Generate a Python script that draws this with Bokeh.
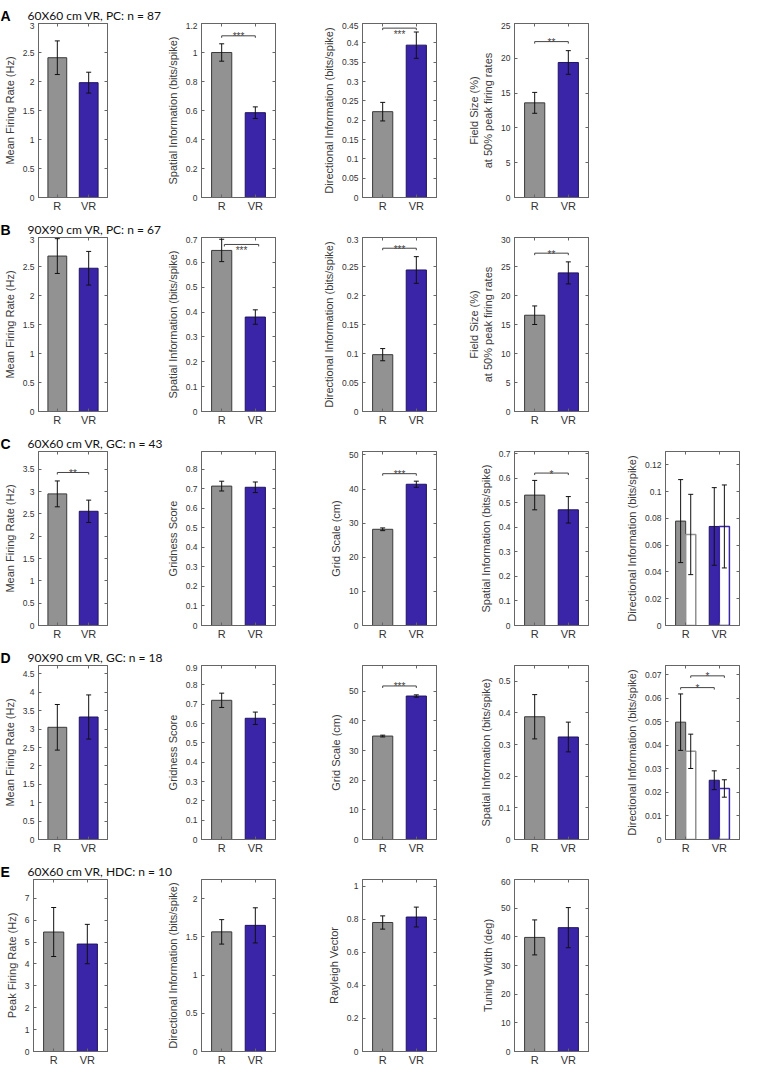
import math
from bokeh.plotting import figure
from bokeh.layouts import column, row
from bokeh.models import (ColumnDataSource, FixedTicker, LinearAxis, Range1d,
                          Whisker, TeeHead)
from bokeh.embed import file_html
from bokeh.resources import INLINE
from bokeh.core.properties import value

# ---------------- data ----------------
categories = ["R", "VR"]
cat_x = [1, 2]

PC_ylabels = ["Mean Firing Rate (Hz)", "Spatial Information (bits/spike)",
              "Directional Information (bits/spike)",
              "Field Size (%)\nat 50% peak firing rates"]

A_letter = "A"
A_title = "60X60 cm VR, PC: n = 87"
A_ymax = [3, 1.2, 0.45, 25]
A_ystep = [0.5, 0.2, 0.05, 5]
A_means = [[2.41, 1.98], [1.00, 0.585], [0.222, 0.394], [13.6, 19.4]]
A_errs = [[0.29, 0.18], [0.06, 0.04], [0.024, 0.034], [1.5, 1.7]]
A_sig = [None, (1, 2, 1.115, "***"), (1, 2, 0.438, "***"), (1, 2, 22.4, "**")]

B_letter = "B"
B_title = "90X90 cm VR, PC: n = 67"
B_ymax = [3, 0.7, 0.3, 30]
B_ystep = [0.5, 0.1, 0.05, 5]
B_means = [[2.68, 2.47], [0.648, 0.38], [0.098, 0.244], [16.6, 23.9]]
B_errs = [[0.30, 0.29], [0.045, 0.029], [0.0105, 0.023], [1.6, 1.9]]
B_sig = [None, (1.08, 2.1, 0.672, "***"), (1, 2, 0.2815, "***"), (1, 2, 27.3, "**")]

GC_ylabels = ["Mean Firing Rate (Hz)", "Gridness Score", "Grid Scale (cm)",
              "Spatial Information (bits/spike)",
              "Directional Information (bits/spike)"]

C_letter = "C"
C_title = "60X60 cm VR, GC: n = 43"
C_ymax = [3.9, 0.89, 51, 0.71, 0.13]
C_ystep = [0.5, 0.1, 10, 0.1, 0.02]
C_means = [[2.95, 2.56], [0.713, 0.707], [28.2, 41.4], [0.532, 0.472]]
C_errs = [[0.29, 0.25], [0.025, 0.027], [0.4, 0.9], [0.06, 0.054]]
C_sig = [(1, 2, 3.43, "**"), None, (1, 2, 44.5, "***"), (1, 2, 0.622, "*")]
C_dir_means = [0.078, 0.068, 0.074, 0.074]
C_dir_errs = [0.031, 0.030, 0.029, 0.031]
C_dir_sig = []

D_letter = "D"
D_title = "90X90 cm VR, GC: n = 18"
D_ymax = [4.73, 0.9, 58.7, 0.55, 0.074]
D_ystep = [0.5, 0.1, 10, 0.1, 0.01]
D_means = [[3.05, 3.33], [0.72, 0.627], [34.9, 48.4], [0.388, 0.324]]
D_errs = [[0.62, 0.60], [0.037, 0.032], [0.3, 0.4], [0.07, 0.047]]
D_sig = [None, None, (1, 2, 51.8, "***"), None]
D_dir_means = [0.0499, 0.0375, 0.0252, 0.0217]
D_dir_errs = [0.012, 0.0073, 0.0040, 0.0037]
D_dir_sig = [(0.85, 1.85, 0.0646, "*"), (1.15, 2.15, 0.0696, "*")]

E_letter = "E"
E_title = "60X60 cm VR, HDC: n = 10"
E_ylabels = ["Peak Firing Rate (Hz)", "Directional Information (bits/spike)",
             "Rayleigh Vector", "Tuning Width (deg)"]
E_ymax = [7.86, 2.25, 1.04, 60]
E_ystep = [1, 0.5, 0.2, 10]
E_means = [[5.46, 4.91], [1.565, 1.65], [0.78, 0.813], [39.8, 43.2]]
E_errs = [[1.12, 0.90], [0.16, 0.23], [0.04, 0.06], [6.1, 7.0]]
E_sig = [None, None, None, None]

# ---------------- style ----------------
GRAY = "#929292"
BLUE = "#3a24a8"
GRAY_EDGE = "#3a3a3a"
BLUE_EDGE = "#221460"
AXIS_C = "#666666"
TEXT_C = "#333333"
FONT = "Liberation Sans"
TITLE_FONT = "Lato"

HEAD_H = 22
TOP = 1
FRAME_H = 174
BOTTOM = 17
BOTTOM_LAST = 15
FRAME_W = 74
RIGHT = 2
LEFTS = [33, 92, 85, 76, 75]
TOTAL_W = sum(LEFTS) + 5 * (FRAME_W + RIGHT)
X_RANGE = (0.4, 2.6)
BAR_W = 0.6
GROUP_OFF = 0.15
GROUP_W = 0.3


def yticks(ymax, step):
    n = int(math.floor(ymax / step + 1e-6))
    return [round(i * step, 6) for i in range(n + 1)]


def style_axis(ax):
    ax.major_tick_in = 3
    ax.major_tick_out = 0
    ax.minor_tick_line_color = None
    ax.axis_line_color = AXIS_C
    ax.major_tick_line_color = AXIS_C
    ax.major_label_text_font = FONT
    ax.major_label_text_color = TEXT_C
    ax.axis_label_text_font = FONT
    ax.axis_label_text_font_style = "normal"
    ax.axis_label_text_color = "#3a3a3a"
    ax.axis_label_text_font_size = "11px"


def base_fig(col, ymax, ystep, ylabel, last):
    bottom = BOTTOM_LAST if last else BOTTOM
    p = figure(width=LEFTS[col] + FRAME_W + RIGHT, height=TOP + FRAME_H + bottom,
               x_range=Range1d(*X_RANGE), y_range=Range1d(0, ymax),
               output_backend="svg", toolbar_location=None,
               min_border_left=LEFTS[col], min_border_right=RIGHT,
               min_border_top=TOP, min_border_bottom=bottom)
    p.grid.visible = False
    p.outline_line_color = AXIS_C
    yt = yticks(ymax, ystep)
    xa = p.xaxis[0]
    ya = p.yaxis[0]
    xa.ticker = FixedTicker(ticks=cat_x)
    xa.major_label_overrides = {x: c for x, c in zip(cat_x, categories)}
    ya.ticker = FixedTicker(ticks=yt)
    ya.major_label_overrides = {t: f"{t:g}" for t in yt}
    ya.axis_label = ylabel
    style_axis(xa)
    style_axis(ya)
    xa.major_label_text_font_size = "11px"
    xa.major_label_standoff = 2
    ya.major_label_text_font_size = "8.5px"
    ya.major_label_standoff = 4
    ya.axis_label_standoff = 4
    ra = LinearAxis(ticker=FixedTicker(ticks=yt),
                    major_label_overrides={t: "" for t in yt})
    ta = LinearAxis(ticker=FixedTicker(ticks=cat_x),
                    major_label_overrides={x: "" for x in cat_x})
    for ax in (ra, ta):
        style_axis(ax)
        ax.major_label_text_font_size = "0px"
        ax.major_label_standoff = 0
    p.add_layout(ra, "right")
    p.add_layout(ta, "above")
    return p


def add_err(p, xs, means, errs):
    src = ColumnDataSource(dict(x=xs, upper=[m + e for m, e in zip(means, errs)],
                                lower=[m - e for m, e in zip(means, errs)]))
    w = Whisker(source=src, base="x", upper="upper", lower="lower",
                line_color="#111111", line_width=1,
                upper_head=TeeHead(size=5, line_color="#111111", line_width=1),
                lower_head=TeeHead(size=5, line_color="#111111", line_width=1),
                level="annotation")
    p.add_layout(w)


def add_sig(p, sig, ymax):
    x1, x2, y, txt = sig
    d = 2.0 * ymax / FRAME_H
    p.line(x=[x1, x1, x2, x2], y=[y - d, y, y, y - d], line_color="#444444", line_width=1)
    room = (ymax - y) / ymax * FRAME_H
    if room < 8:
        p.text(x=[(x1 + x2) / 2], y=[y], text=[txt], text_align="center",
               text_baseline="top", y_offset=1, text_font_size="10px",
               text_color="#444444", text_font=value(FONT))
    else:
        p.text(x=[(x1 + x2) / 2], y=[y], text=[txt], text_align="center",
               text_baseline="alphabetic", y_offset=1, text_font_size="10px",
               text_color="#444444", text_font=value(FONT))


def simple_panel(col, ymax, ystep, ylabel, means, errs, sig, last=False):
    p = base_fig(col, ymax, ystep, ylabel, last)
    src = ColumnDataSource(dict(x=cat_x, top=means, fill=[GRAY, BLUE],
                                edge=[GRAY_EDGE, BLUE_EDGE]))
    p.vbar(x="x", top="top", bottom=0, width=BAR_W, fill_color="fill",
           line_color="edge", line_width=1, source=src)
    add_err(p, cat_x, means, errs)
    if sig is not None:
        add_sig(p, sig, ymax)
    return p


def grouped_panel(col, ymax, ystep, ylabel, means, errs, sigs, last=False):
    p = base_fig(col, ymax, ystep, ylabel, last)
    xs = []
    for c in cat_x:
        xs += [c - GROUP_OFF, c + GROUP_OFF]
    src = ColumnDataSource(dict(x=xs, top=means,
                                fill=[GRAY, "white", BLUE, "white"],
                                edge=[GRAY_EDGE, GRAY, BLUE_EDGE, BLUE],
                                lw=[1, 1.5, 1, 1.5]))
    p.vbar(x="x", top="top", bottom=0, width=GROUP_W, fill_color="fill",
           line_color="edge", line_width="lw", source=src)
    add_err(p, xs, means, errs)
    for s in sigs:
        add_sig(p, s, ymax)
    return p


def heading(letter, title):
    h = figure(width=TOTAL_W, height=HEAD_H, x_range=Range1d(0, TOTAL_W),
               y_range=Range1d(0, HEAD_H), output_backend="svg",
               toolbar_location=None, x_axis_location=None, y_axis_location=None,
               min_border=0)
    h.grid.visible = False
    h.outline_line_color = None
    base_y = 7
    h.text(x=[0], y=[base_y], text=[letter], text_font=value(FONT),
           text_font_style="bold", text_font_size="14px", text_color="#000000",
           text_baseline="alphabetic", text_align="left")
    h.text(x=[LEFTS[0] - 6], y=[base_y], text=[title], text_font=value(TITLE_FONT),
           text_font_size="12px", text_color="#111111",
           text_baseline="alphabetic", text_align="left")
    return h


def build_row(letter, title, ymaxs, ysteps, ylabels, means, errs, sigs,
              dir_means=None, dir_errs=None, dir_sig=None, last=False):
    figs = []
    for i in range(len(means)):
        figs.append(simple_panel(i, ymaxs[i], ysteps[i], ylabels[i], means[i], errs[i],
                                 sigs[i], last))
    if dir_means is not None:
        i = len(means)
        figs.append(grouped_panel(i, ymaxs[i], ysteps[i], ylabels[i], dir_means,
                                  dir_errs, dir_sig, last))
    return column(heading(letter, title), row(*figs))


rA = build_row(A_letter, A_title, A_ymax, A_ystep, PC_ylabels, A_means, A_errs, A_sig)
rB = build_row(B_letter, B_title, B_ymax, B_ystep, PC_ylabels, B_means, B_errs, B_sig)
rC = build_row(C_letter, C_title, C_ymax, C_ystep, GC_ylabels, C_means, C_errs, C_sig,
               C_dir_means, C_dir_errs, C_dir_sig)
rD = build_row(D_letter, D_title, D_ymax, D_ystep, GC_ylabels, D_means, D_errs, D_sig,
               D_dir_means, D_dir_errs, D_dir_sig)
rE = build_row(E_letter, E_title, E_ymax, E_ystep, E_ylabels, E_means, E_errs, E_sig,
               last=True)

layout = column(rA, rB, rC, rD, rE)
open("out.html", "w").write(file_html(layout, INLINE))
